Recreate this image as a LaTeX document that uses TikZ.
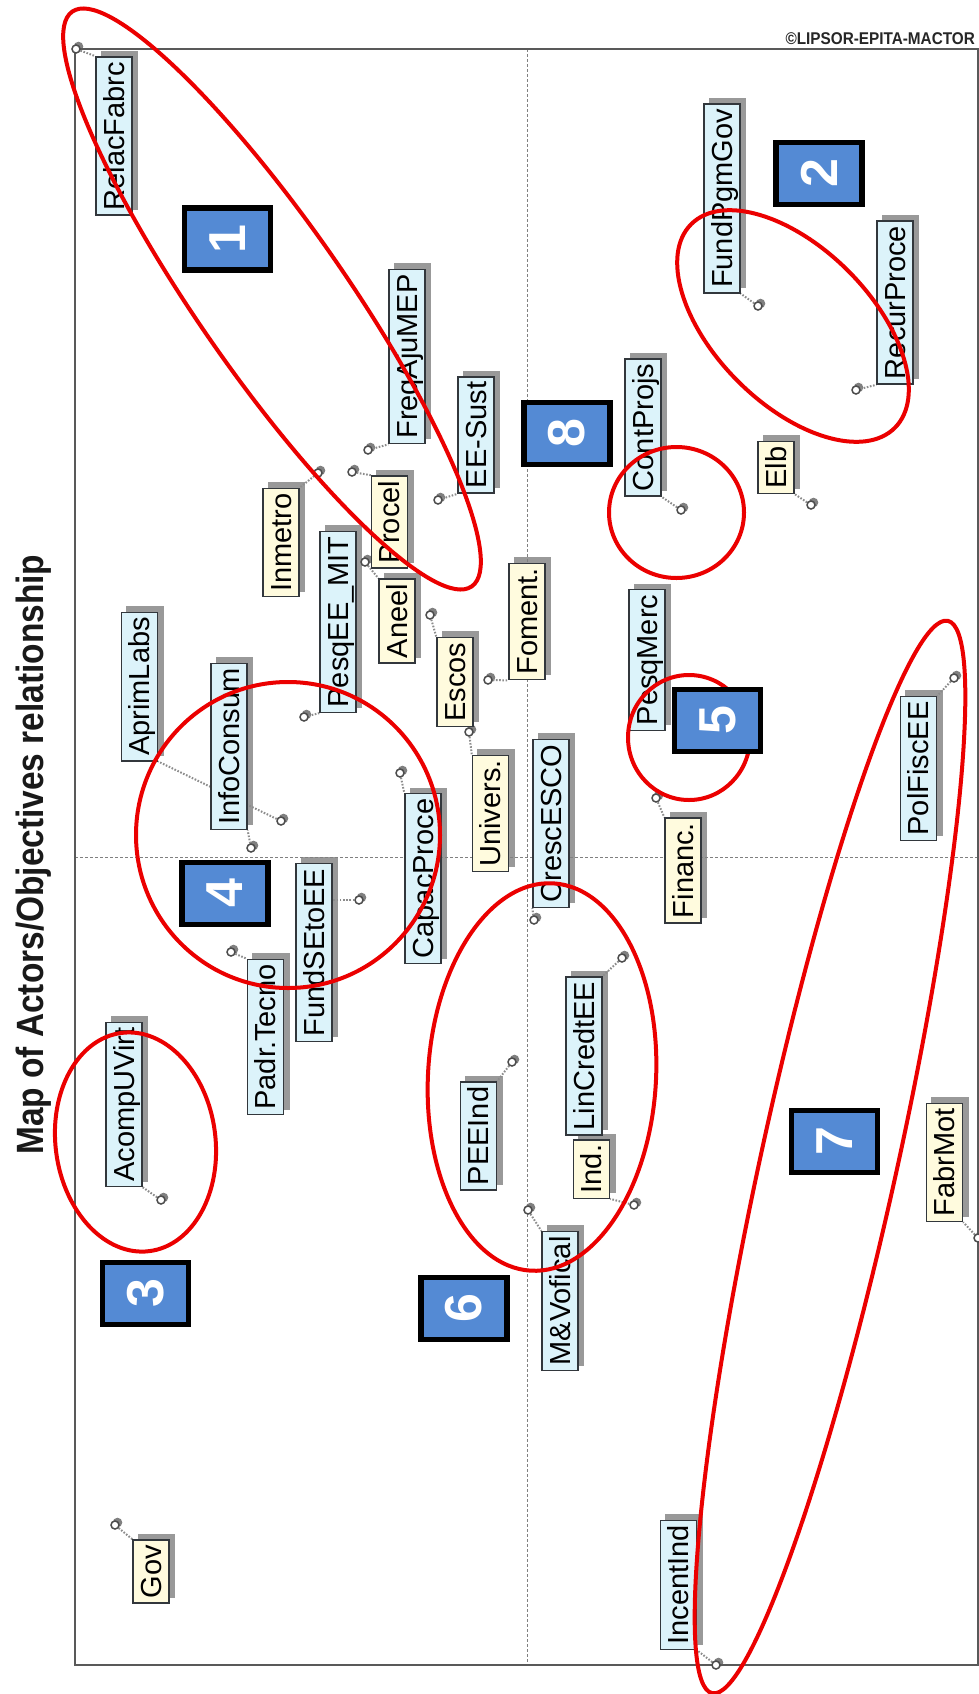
\documentclass[tikz,border=0pt]{standalone}
\usepackage{fontspec}
\usepackage{graphicx}
\setmainfont{Liberation Sans}
\usetikzlibrary{calc}

\definecolor{lblcyan}{RGB}{220,243,250}
\definecolor{lblyellow}{RGB}{255,251,222}
\definecolor{lblborder}{RGB}{50,55,60}
\definecolor{badgeblue}{RGB}{84,138,212}
\definecolor{ringred}{RGB}{235,0,0}

\pgfdeclarelayer{bg}
\pgfsetlayers{bg,main}

\tikzset{
  lbl/.style={rotate=90, draw=lblborder, line width=1.4pt, inner xsep=5pt, inner ysep=4.5pt,
    text height=23.5pt, text depth=3.5pt, font=\fontsize{29}{30}\selectfont},
  cyanbox/.style={fill=lblcyan},
  yellowbox/.style={fill=lblyellow},
  lblshadow/.style={fill=black!40},
  pin/.style={circle, draw=black!70, line width=1.5pt, fill=white, inner sep=0pt, minimum size=8pt},
  pinshadow/.style={fill=black!50},
  leader/.style={draw=black!45, line width=2pt, dash pattern=on 1.6pt off 1.6pt},
  badge/.style={rotate=90, draw=black, line width=5.5pt, fill=badgeblue, minimum width=62pt,
    minimum height=86pt, inner sep=0pt, text=white, font=\fontsize{52}{52}\bfseries},
  ring/.style={draw=ringred, line width=4pt},
  axisline/.style={draw=black!50, line width=1pt, dash pattern=on 3pt off 2pt},
}

% label box with its offset shadow
\newcommand\actorbox[5]{%
  \node[lbl,#4] (#1) at (#2,-#3) {#5};
  \begin{pgfonlayer}{bg}
    \fill[lblshadow] ($(#1.south west)+(5.5,5.5)$) rectangle ($(#1.north east)+(5.5,5.5)$);
  \end{pgfonlayer}}
% small position marker with shadow
\newcommand\pinmark[3]{%
  \node[pin] (#1) at (#2,-#3) {};
  \begin{pgfonlayer}{bg}
    \fill[pinshadow] ($(#1.center)+(2.5,2.5)$) circle (4.8);
  \end{pgfonlayer}}
% dotted leader from marker to label
\newcommand\leadto[2]{%
  \begin{pgfonlayer}{bg}\draw[leader] (#1) -- (#2);\end{pgfonlayer}}

\begin{document}
\begin{tikzpicture}[x=1pt,y=1pt]
\useasboundingbox (0,0) rectangle (979,-1694);
\begin{pgfonlayer}{bg}
  \fill[white] (0,0) rectangle (979,-1694);
\end{pgfonlayer}

% frame and axes
\draw[axisline] (527,-49) -- (527,-1665);
\draw[axisline] (75,-857) -- (978,-857);
\draw[draw=black!65, line width=2pt] (75,-49) rectangle (978,-1665);

% title and credit
\node[rotate=90, anchor=base west, inner sep=0pt, text=black!90,
      font=\fontsize{38}{40}\selectfont\bfseries] (title) at (43,-1155)
  {\scalebox{0.88}[1]{Map of Actors/Objectives relationship}};
\node[anchor=base east, inner sep=0pt, text=black!85,
      font=\fontsize{17}{18}\selectfont\bfseries] (credit) at (975,-45)
  {\scalebox{0.9}[1]{©LIPSOR-EPITA-MACTOR}};

% labels
\actorbox{RelacFabrc}{114}{136}{cyanbox}{RelacFabrc}
\actorbox{FundPgmGov}{722}{198.5}{cyanbox}{FundPgmGov}
\actorbox{RecurProce}{895}{302.5}{cyanbox}{RecurProce}
\actorbox{FreqAjuMEP}{407}{356.5}{cyanbox}{FreqAjuMEP}
\actorbox{EESust}{476}{435}{cyanbox}{EE-Sust}
\actorbox{ContProjs}{643}{427.5}{cyanbox}{ContProjs}
\actorbox{Elb}{776}{467.5}{yellowbox}{Elb}
\actorbox{Inmetro}{281}{542.5}{yellowbox}{Inmetro}
\actorbox{PesqEEMIT}{338}{622}{cyanbox}{PesqEE\_MIT}
\actorbox{Procel}{389.5}{522}{yellowbox}{Procel}
\actorbox{Aneel}{397}{621}{yellowbox}{Aneel}
\actorbox{Escos}{455}{682}{yellowbox}{Escos}
\actorbox{Foment}{527}{621.5}{yellowbox}{Foment.}
\actorbox{AprimLabs}{139.5}{686.5}{cyanbox}{AprimLabs}
\actorbox{InfoConsum}{229}{746.5}{cyanbox}{InfoConsum}
\actorbox{CapacProce}{423}{878.5}{cyanbox}{CapacProce}
\actorbox{Univers}{490.5}{813.5}{yellowbox}{Univers.}
\actorbox{CrescESCO}{551}{823.5}{cyanbox}{CrescESCO}
\actorbox{PesqMerc}{647}{660}{cyanbox}{PesqMerc}
\actorbox{Financ}{683}{870.5}{yellowbox}{Financ.}
\actorbox{PolFiscEE}{918.5}{768.5}{cyanbox}{PolFiscEE}
\actorbox{FundSEtoEE}{314}{952.5}{cyanbox}{FundSEtoEE}
\actorbox{PadrTecno}{265.5}{1037}{cyanbox}{Padr.Tecno}
\actorbox{AcompUVirt}{124}{1104.5}{cyanbox}{AcompUVirt}
\actorbox{PEEInd}{478.5}{1136}{cyanbox}{PEEInd}
\actorbox{LinCredtEE}{584}{1056}{cyanbox}{LinCredtEE}
\actorbox{Ind}{591.5}{1169}{yellowbox}{Ind.}
\actorbox{MVofical}{560}{1301}{cyanbox}{M\&Vofical}
\actorbox{FabrMot}{944.5}{1162.5}{yellowbox}{FabrMot}
\actorbox{Gov}{151}{1571.5}{yellowbox}{Gov}
\actorbox{IncentInd}{678.5}{1585}{cyanbox}{IncentInd}

% markers
\pinmark{m-RelacFabrc}{76}{49}
\pinmark{m-FundPgmGov}{758}{306}
\pinmark{m-RecurProce}{856}{390}
\pinmark{m-FreqAjuMEP}{368}{450}
\pinmark{m-EESust}{438}{500}
\pinmark{m-ContProjs}{681}{510}
\pinmark{m-Elb}{811}{505}
\pinmark{m-Inmetro}{318}{473}
\pinmark{m-Procel}{352}{472}
\pinmark{m-PesqEEMIT}{304}{717}
\pinmark{m-Aneel}{365}{562}
\pinmark{m-Escos}{430}{615}
\pinmark{m-Foment}{488}{680}
\pinmark{m-AprimLabs}{281}{821}
\pinmark{m-InfoConsum}{251}{848}
\pinmark{m-CapacProce}{400}{773}
\pinmark{m-Univers}{469}{732}
\pinmark{m-CrescESCO}{534}{920}
\pinmark{m-Financ}{656}{798}
\pinmark{m-PolFiscEE}{954}{678}
\pinmark{m-FundSEtoEE}{359}{900}
\pinmark{m-PadrTecno}{231}{952}
\pinmark{m-AcompUVirt}{161}{1200}
\pinmark{m-PEEInd}{512}{1062}
\pinmark{m-LinCredtEE}{622}{958}
\pinmark{m-Ind}{634}{1205}
\pinmark{m-MVofical}{528}{1210}
\pinmark{m-FabrMot}{978}{1238}
\pinmark{m-Gov}{115}{1525}
\pinmark{m-IncentInd}{716}{1665}

% leaders
\leadto{m-RelacFabrc}{RelacFabrc.north east}
\leadto{m-FundPgmGov}{FundPgmGov.south west}
\leadto{m-RecurProce}{RecurProce.north west}
\leadto{m-FreqAjuMEP}{FreqAjuMEP.north west}
\leadto{m-EESust}{EESust.north west}
\leadto{m-ContProjs}{ContProjs.south west}
\leadto{m-Elb}{Elb.south west}
\leadto{m-Inmetro}{Inmetro.south east}
\leadto{m-Procel}{Procel.north east}
\leadto{m-PesqEEMIT}{PesqEEMIT.north west}
\leadto{m-Aneel}{Aneel.north east}
\leadto{m-Escos}{Escos.north east}
\leadto{m-Foment}{Foment.north west}
\leadto{m-AprimLabs}{AprimLabs.south west}
\leadto{m-InfoConsum}{InfoConsum.south west}
\leadto{m-CapacProce}{CapacProce.north east}
\leadto{m-Univers}{Univers.north east}
\leadto{m-CrescESCO}{CrescESCO.north west}
\leadto{m-Financ}{Financ.north east}
\leadto{m-PolFiscEE}{PolFiscEE.south east}
\leadto{m-FundSEtoEE}{m-FundSEtoEE -| FundSEtoEE.south}
\leadto{m-PadrTecno}{PadrTecno.north east}
\leadto{m-AcompUVirt}{AcompUVirt.south west}
\leadto{m-PEEInd}{PEEInd.south east}
\leadto{m-LinCredtEE}{LinCredtEE.south east}
\leadto{m-Ind}{Ind.south west}
\leadto{m-MVofical}{MVofical.north east}
\leadto{m-FabrMot}{FabrMot.south west}
\leadto{m-Gov}{Gov.north east}
\leadto{m-IncentInd}{IncentInd.south west}

% red group outlines
\draw[ring, rotate around={-55.2:(272,-299)}] (272,-299) ellipse [x radius=350, y radius=74];
\draw[ring, rotate around={-45:(793,-326)}] (793,-326) ellipse [x radius=144, y radius=78];
\draw[ring, rotate around={7.3:(135.5,-1142)}] (135.5,-1142) ellipse [x radius=80, y radius=110];
\draw[ring] (288,-835) ellipse [x radius=152, y radius=153];
\draw[ring] (689,-737.5) ellipse [x radius=61, y radius=62.5];
\draw[ring, rotate around={-3.3:(542,-1077)}] (542,-1077) ellipse [x radius=114, y radius=194];
\draw[ring, rotate around={77.6:(830,-1157)}] (830,-1157) ellipse [x radius=549, y radius=68];
\draw[ring] (676.5,-512.5) ellipse [x radius=67.5, y radius=65.5];

% group numbers
\node[badge] (g1) at (227.5,-239) {1};
\node[badge] (g2) at (819,-173.5) {2};
\node[badge] (g3) at (145.5,-1293.5) {3};
\node[badge] (g4) at (225,-893.5) {4};
\node[badge] (g5) at (717.5,-720.5) {5};
\node[badge] (g6) at (464,-1308.5) {6};
\node[badge] (g7) at (834.5,-1141.5) {7};
\node[badge] (g8) at (567,-433.5) {8};
\end{tikzpicture}
\end{document}
